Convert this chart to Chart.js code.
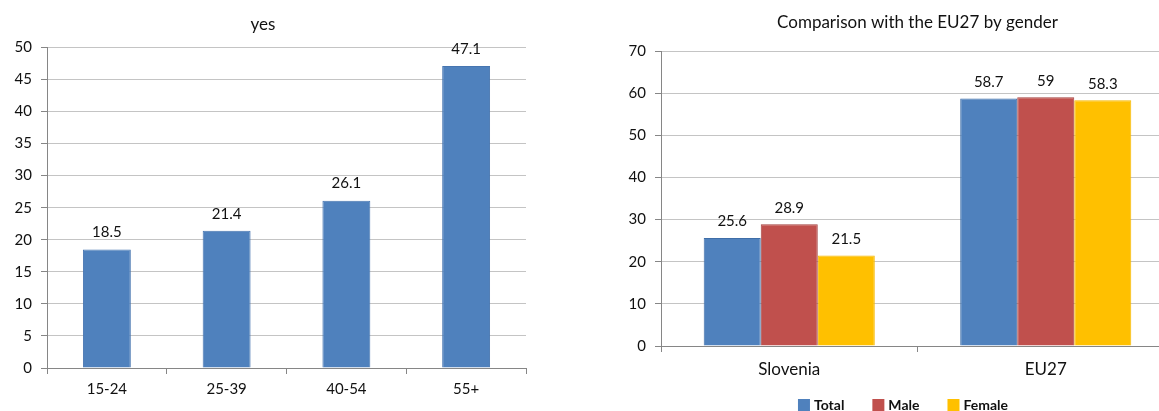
<!DOCTYPE html>
<html>
<head>
<meta charset="utf-8">
<script src="https://cdn.jsdelivr.net/npm/chart.js@4.4.1/dist/chart.umd.min.js"></script>
<style>
  html, body { margin: 0; padding: 0; background: #fff; }
  body { width: 1159px; height: 411px; position: relative; overflow: hidden; }
  #leftBox { position: absolute; left: 0; top: 0; width: 544px; height: 411px; }
  #rightBox { position: absolute; left: 590px; top: 0; width: 569px; height: 411px; overflow: hidden; }
</style>
</head>
<body>
<div id="leftBox"><canvas id="ageChart" width="544" height="411"></canvas></div>
<div id="rightBox"><canvas id="genderChart" width="584" height="411"></canvas></div>
<script>
// Share answering "yes", by age group
const ageGroups = ['15-24', '25-39', '40-54', '55+'];
const yesShare = [18.5, 21.4, 26.1, 47.1];

// Slovenia vs EU27, by gender
const regions = ['Slovenia', 'EU27'];
const seriesNames = ['Total', 'Male', 'Female'];
const totalShare = [25.6, 58.7];
const maleShare = [28.9, 59];
const femaleShare = [21.5, 58.3];

const FONT = 'Lato, "Liberation Sans", Arial, sans-serif';
const AXIS = '#868686';
const GRID = '#c4c4c4';
const TEXT = '#111';

// Prints each bar's value just above it
const valueLabels = {
  id: 'valueLabels',
  afterDatasetsDraw(chart, args, opts) {
    const ctx = chart.ctx;
    ctx.save();
    ctx.font = opts.font;
    ctx.fillStyle = TEXT;
    ctx.textAlign = 'center';
    ctx.textBaseline = 'middle';
    chart.data.datasets.forEach((ds, i) => {
      chart.getDatasetMeta(i).data.forEach((bar, j) => {
        ctx.fillText(String(ds.data[j]), bar.x, bar.y - opts.offset);
      });
    });
    ctx.restore();
  }
};

// Compact legend row under the category labels
const squareLegend = {
  id: 'squareLegend',
  afterDraw(chart, args, opts) {
    if (!opts.display) return;
    const ctx = chart.ctx;
    ctx.save();
    ctx.font = opts.font;
    ctx.textBaseline = 'middle';
    ctx.textAlign = 'left';
    const items = chart.data.datasets.map(ds => ({
      text: ds.label, color: ds.backgroundColor,
      w: opts.box + opts.boxGap + ctx.measureText(ds.label).width
    }));
    const total = items.reduce((s, it) => s + it.w, 0) + opts.gap * (items.length - 1);
    let x = opts.centerX - total / 2;
    items.forEach(it => {
      ctx.fillStyle = it.color;
      ctx.fillRect(x, opts.y - opts.box / 2, opts.box, opts.box);
      ctx.fillStyle = TEXT;
      ctx.fillText(it.text, x + opts.box + opts.boxGap, opts.y);
      x += it.w + opts.gap;
    });
    ctx.restore();
  }
};

Chart.register(valueLabels, squareLegend);

function yAxis(max, step, width) {
  return {
    min: 0, max: max,
    ticks: { stepSize: step, font: { family: FONT, size: 15 }, color: TEXT, padding: 9 },
    grid: { color: GRID, tickColor: AXIS, tickLength: 6 },
    border: { color: AXIS },
    afterFit(scale) { scale.width = width; }
  };
}

function xAxis(height, fontSize, pad) {
  return {
    offset: true,
    ticks: { font: { family: FONT, size: fontSize }, color: TEXT, padding: pad, maxRotation: 0 },
    grid: { offset: true, drawOnChartArea: false, tickColor: AXIS, tickLength: 6 },
    border: { color: AXIS },
    afterFit(scale) { scale.height = height; }
  };
}

new Chart(document.getElementById('ageChart'), {
  type: 'bar',
  data: {
    labels: ageGroups,
    datasets: [{
      label: 'yes',
      data: yesShare,
      backgroundColor: '#4F81BD',
      borderColor: '#4675B0',
      borderWidth: 1,
      categoryPercentage: 0.4,
      barPercentage: 1
    }]
  },
  options: {
    responsive: false,
    animation: false,
    devicePixelRatio: 1,
    layout: { padding: { left: 0, right: 18, top: 0, bottom: 0 } },
    scales: { x: xAxis(43, 15, 6), y: yAxis(50, 5, 47) },
    plugins: {
      legend: { display: false },
      tooltip: { enabled: false },
      title: {
        display: true, text: 'yes', color: TEXT,
        font: { family: FONT, size: 17, weight: 'normal', lineHeight: 1.2 },
        padding: { top: 14, bottom: 13 }
      },
      valueLabels: { font: '15px ' + FONT, offset: 17 },
      squareLegend: { display: false }
    }
  }
});

const seriesColors = ['#4F81BD', '#C0504D', '#FFC000'];
const seriesBorders = ['#3F6EA8', '#A4413F', '#F5B800'];
const seriesData = [totalShare, maleShare, femaleShare];

new Chart(document.getElementById('genderChart'), {
  type: 'bar',
  data: {
    labels: regions,
    datasets: seriesNames.map((name, i) => ({
      label: name,
      data: seriesData[i],
      backgroundColor: seriesColors[i],
      borderColor: seriesBorders[i],
      borderWidth: 1,
      categoryPercentage: 0.667,
      barPercentage: 1
    }))
  },
  options: {
    responsive: false,
    animation: false,
    devicePixelRatio: 1,
    layout: { padding: 0 },
    scales: { x: xAxis(65, 17, 7), y: yAxis(70, 10, 71) },
    plugins: {
      legend: { display: false },
      tooltip: { enabled: false },
      title: {
        display: true, fullSize: false, text: 'Comparison with the EU27 by gender', color: TEXT,
        font: { family: FONT, size: 17, weight: 'normal', lineHeight: 1.2 },
        padding: { top: 12, bottom: 18.6 }
      },
      valueLabels: { font: '15px ' + FONT, offset: 16.5 },
      squareLegend: {
        display: true, font: 'bold 14px ' + FONT,
        box: 12, boxGap: 4, gap: 28, centerX: 313, y: 405
      }
    }
  }
});
</script>
</body>
</html>
